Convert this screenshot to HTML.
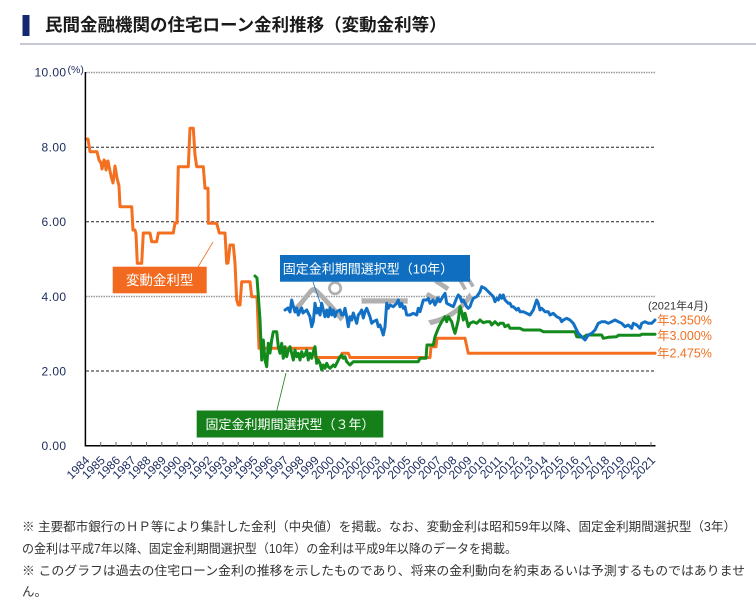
<!DOCTYPE html>
<html><head><meta charset="utf-8"><style>
html,body{margin:0;padding:0;background:#fff;}
svg{display:block;}
</style></head><body>
<svg width="756" height="609" viewBox="0 0 756 609" xmlns="http://www.w3.org/2000/svg" font-family="'Liberation Sans','Noto Sans CJK JP',sans-serif">
<rect width="756" height="609" fill="#fff"/>
<!-- title -->
<rect x="22.5" y="15" width="7" height="21" fill="#13296f"/>
<text x="45" y="31" font-size="17.5" font-weight="bold" fill="#1a1a1a">民間金融機関の住宅ローン金利推移（変動金利等）</text>
<rect x="20" y="43" width="736" height="2" fill="#c6c9d4"/>

<!-- gridlines -->
<g fill="none">
<line x1="86" y1="72.5" x2="655" y2="72.5" stroke="#999" stroke-width="1.5" stroke-dasharray="1.5,1"/>
<line x1="86" y1="147.2" x2="655" y2="147.2" stroke="#222" stroke-width="1" stroke-dasharray="3,2"/>
<line x1="86" y1="221.8" x2="655" y2="221.8" stroke="#222" stroke-width="1" stroke-dasharray="3,2"/>
<line x1="86" y1="296.5" x2="655" y2="296.5" stroke="#999" stroke-width="1.5" stroke-dasharray="1.5,1"/>
<line x1="86" y1="371" x2="655" y2="371" stroke="#222" stroke-width="1" stroke-dasharray="3,2"/>
</g>

<!-- y labels -->
<g font-size="12" fill="#1c2b5e" text-anchor="end" letter-spacing="0.4">
<text x="66.5" y="76.5">10.00</text>
<text x="66.5" y="151.5">8.00</text>
<text x="66.5" y="226">6.00</text>
<text x="66.5" y="301">4.00</text>
<text x="66.5" y="375.5">2.00</text>
<text x="66.5" y="450">0.00</text>
</g>
<text x="67.5" y="73" font-size="10.5" fill="#1c2b5e">(%)</text>

<!-- watermark -->
<text x="290" y="323" font-size="58" fill="#b0b0b0" textLength="188" lengthAdjust="spacing" font-family="'Noto Sans CJK JP',sans-serif">ページ</text>

<!-- label boxes -->
<rect x="112.7" y="266.7" width="94" height="26.6" fill="#f26a1f"/>
<text x="159.7" y="285" font-size="13.5" fill="#fff" text-anchor="middle">変動金利型</text>
<line x1="198" y1="267" x2="213" y2="242" stroke="#f26a1f" stroke-width="0.8"/>

<rect x="280" y="255" width="190" height="26.7" fill="#0f6ebf"/>
<text x="368" y="273.5" font-size="13" fill="#fff" text-anchor="middle">固定金利期間選択型（10年）</text>
<line x1="313" y1="282" x2="322" y2="308" stroke="#0f6ebf" stroke-width="0.8"/>

<rect x="196.7" y="410.5" width="186.6" height="27" fill="#15801a"/>
<text x="290" y="429" font-size="13" fill="#fff" text-anchor="middle">固定金利期間選択型（３年）</text>
<line x1="276.7" y1="411" x2="286" y2="373" stroke="#15801a" stroke-width="0.8"/>

<!-- series -->
<g fill="none" stroke-width="3" stroke-linejoin="round" stroke-linecap="round">
<path stroke="#f47020" d="M86,139 L88,139 L90,151.7 L97,151.7 L99,160 L101,163 L102,169 L104,160 L105,161 L106,170 L108,161 L109,166 L111,176 L113,183 L114,175 L115,166 L117,178 L119,186 L120,206.7 L131.7,206.7 L133,230 L135,230 L136,234 L137.3,263.3 L141.7,263.3 L143.3,233 L150,233 L151.7,241.7 L156.7,241.7 L158.3,233 L173.3,233 L175,223 L177,223 L178.3,166.7 L188.3,166.7 L190,128.3 L193.3,128.3 L195,155 L196.7,166.7 L203.3,166.7 L205,188.3 L208,188.3 L208.3,223.3 L216.7,223.3 L219.3,233 L225,233 L226.7,263.3 L228,263 L230,245 L233.3,245 L235,263 L236.7,300 L238.3,305 L240,305 L241.7,281.7 L250,281.7 L251.7,296.7 L255,296.7 L257,296.7 L259,348.3 L314,348.3 L315.5,357.5 L341,357.5 L342,353.3 L348.3,353.3 L350,357.5 L430,357.5 L431,346.7 L436,346.7 L437,338.3 L465,338.3 L468.3,353.3 L655,353.3"/>
<path stroke="#138a1c" d="M255,276 L257,278 L260,320 L261.7,360 L263.3,340 L265,360 L266.7,366.7 L268.3,343.3 L270,353 L271.7,340 L273.3,331.7 L276.7,331.7 L278.3,346.7 L280,353.3 L281.7,343.3 L283.3,358.3 L285,346.7 L286.7,356.7 L288.3,350 L290,346.7 L291.7,353.3 L293.3,360 L295,350 L296.7,356.7 L298.3,353.3 L300,360 L301.7,351.7 L303.3,356.7 L305,355 L306.7,350 L308.3,360 L310,353.3 L311.7,358.3 L313.3,351.7 L315,346.7 L316.7,363.3 L318.3,360 L320,363.3 L321.7,370 L323.3,365 L325,368.3 L326.7,363.3 L328.3,366.7 L330,368.3 L333.3,365 L335,366.7 L336.7,363.3 L338.3,360 L340,356.7 L341.7,355 L343.3,358.3 L345,356.7 L346.7,361.7 L350,365 L353.3,361.7 L418.3,361.7 L420,358.3 L426,358.3 L427,345 L433.3,345 L435,336.7 L438.3,328.3 L441.7,321.7 L445,316.7 L446.7,321.7 L448.3,316.7 L451.7,321.7 L453.3,328.3 L455,333.3 L456.7,326.7 L458.3,320 L460,306.7 L461.7,311.7 L463.3,320 L465,313.3 L466.7,320 L468.3,326.7 L470,323.3 L473.3,321.7 L476.7,323.3 L480,320 L483.3,322.7 L486.7,321.7 L490,321.7 L491.7,325 L495,321.7 L498.3,325 L500,323.3 L503.3,323.3 L505,326.7 L508.3,325 L510,328.3 L520,328.3 L523.3,330 L540,330 L543.3,331.7 L575,331.7 L576.7,336.7 L583.3,337.3 L586.7,335 L601.7,335 L603.3,338.3 L608.3,337.3 L616.7,336.7 L618.3,335.3 L640,335.3 L641.7,334.3 L655,334.3"/>
<path stroke="#1271c4" d="M285,310 L288,308 L290,312 L291.7,300 L293,305 L295,312 L296.7,308 L298.3,315 L300,311 L301.7,308 L303,313 L306.7,310 L310,316.7 L311.7,326.7 L313.3,321.7 L315,303.3 L316.7,313 L318.3,308.3 L320,315 L321.7,303.3 L323.3,310 L325,316.7 L326.7,310 L328.3,316.7 L330,308 L331.7,315 L333.3,310 L335,316.7 L336.7,311.7 L340,310 L341.7,315 L343.3,315 L345,308.3 L346.7,316.7 L348.3,326.7 L350,316.7 L351.7,320 L353.3,313 L356.7,323.3 L358.3,315 L360,313 L361.7,310 L363.3,318 L365,311.7 L366.7,308.3 L370,316.7 L371.7,323.3 L373.3,321.7 L376.7,320 L378.3,326.7 L380,325 L381.7,330 L383.3,335 L385,326.7 L386.7,303.3 L388.3,308.3 L390,305 L393.3,306.7 L396.7,303.3 L398.3,300 L400,306.7 L401.7,303.3 L403.3,308.3 L405,306.7 L406.7,315 L410,315 L413.3,313.3 L416.7,315 L418.3,308.3 L420,311.7 L423.3,300 L426.7,300 L428.3,298.3 L430,303.3 L433,300 L435,305 L438,298 L440,301.7 L442,298 L445,293.3 L446.7,303.3 L450,305 L453.3,306.7 L456.7,298 L458.3,295 L460,296.7 L461.7,301.7 L463.3,300 L466.7,306.7 L468.3,308.3 L470,306.7 L471.7,301.7 L473.3,298.3 L476.7,296.7 L480,291.7 L481.7,286.7 L485,288.3 L486.7,290 L490,293.3 L491.7,295 L493.3,296.7 L495,301.7 L496.7,298.3 L498.3,300 L500,295 L501.7,298.3 L503.3,295 L505,300 L506.7,301.7 L508.3,303.3 L510,303.3 L511.7,306.7 L513.3,306.7 L516.7,310 L518.3,308.3 L520,311.7 L523.3,311.7 L526.7,313.3 L530,315 L533.3,310 L535,305 L536.7,300 L538.3,303.3 L540,310 L541.7,308.3 L545,311.7 L548.3,311.7 L550,315 L553.3,313.3 L556.7,316.7 L560,318.3 L561.7,321.7 L563.3,320 L566.7,318.3 L570,320 L573.3,323.3 L575,326.7 L578.3,333.3 L581.7,336.7 L585,340 L588.3,335 L591.7,333.3 L595,330 L598.3,323.3 L601.7,321.7 L605,321.7 L608.3,323.3 L611.7,321.7 L615,320 L618.3,321.7 L621.7,323.3 L625,326.7 L628.3,325 L631.7,328.3 L633.3,323.3 L636.7,325 L640,328.3 L641.7,323.3 L645,321.7 L648.3,323.3 L651.7,323.3 L655,320"/>
</g>

<!-- axes -->
<line x1="85.4" y1="72" x2="85.4" y2="446.5" stroke="#000" stroke-width="1.5"/>
<line x1="84.7" y1="445.8" x2="655.5" y2="445.8" stroke="#000" stroke-width="1.5"/>
<g stroke="#666" stroke-width="1">
<line x1="100.69" y1="442" x2="100.69" y2="446"/><line x1="115.97" y1="442" x2="115.97" y2="446"/><line x1="131.26" y1="442" x2="131.26" y2="446"/><line x1="146.54" y1="442" x2="146.54" y2="446"/><line x1="161.83" y1="442" x2="161.83" y2="446"/><line x1="177.12" y1="442" x2="177.12" y2="446"/><line x1="192.4" y1="442" x2="192.4" y2="446"/><line x1="207.69" y1="442" x2="207.69" y2="446"/><line x1="222.97" y1="442" x2="222.97" y2="446"/><line x1="238.26" y1="442" x2="238.26" y2="446"/><line x1="253.55" y1="442" x2="253.55" y2="446"/><line x1="268.83" y1="442" x2="268.83" y2="446"/><line x1="284.12" y1="442" x2="284.12" y2="446"/><line x1="299.4" y1="442" x2="299.4" y2="446"/><line x1="314.69" y1="442" x2="314.69" y2="446"/><line x1="329.98" y1="442" x2="329.98" y2="446"/><line x1="345.26" y1="442" x2="345.26" y2="446"/><line x1="360.55" y1="442" x2="360.55" y2="446"/><line x1="375.83" y1="442" x2="375.83" y2="446"/><line x1="391.12" y1="442" x2="391.12" y2="446"/><line x1="406.41" y1="442" x2="406.41" y2="446"/><line x1="421.69" y1="442" x2="421.69" y2="446"/><line x1="436.98" y1="442" x2="436.98" y2="446"/><line x1="452.26" y1="442" x2="452.26" y2="446"/><line x1="467.55" y1="442" x2="467.55" y2="446"/><line x1="482.84" y1="442" x2="482.84" y2="446"/><line x1="498.12" y1="442" x2="498.12" y2="446"/><line x1="513.41" y1="442" x2="513.41" y2="446"/><line x1="528.69" y1="442" x2="528.69" y2="446"/><line x1="543.98" y1="442" x2="543.98" y2="446"/><line x1="559.27" y1="442" x2="559.27" y2="446"/><line x1="574.55" y1="442" x2="574.55" y2="446"/><line x1="589.84" y1="442" x2="589.84" y2="446"/><line x1="605.12" y1="442" x2="605.12" y2="446"/><line x1="620.41" y1="442" x2="620.41" y2="446"/><line x1="635.7" y1="442" x2="635.7" y2="446"/><line x1="650.98" y1="442" x2="650.98" y2="446"/>
</g>

<!-- x labels -->
<g font-size="12" fill="#1c2b5e" text-anchor="end">
<text transform="translate(90.4,461) rotate(-45)">1984</text>
<text transform="translate(105.7,461) rotate(-45)">1985</text>
<text transform="translate(121,461) rotate(-45)">1986</text>
<text transform="translate(136.3,461) rotate(-45)">1987</text>
<text transform="translate(151.5,461) rotate(-45)">1988</text>
<text transform="translate(166.8,461) rotate(-45)">1989</text>
<text transform="translate(182.1,461) rotate(-45)">1990</text>
<text transform="translate(197.4,461) rotate(-45)">1991</text>
<text transform="translate(212.7,461) rotate(-45)">1992</text>
<text transform="translate(228,461) rotate(-45)">1993</text>
<text transform="translate(243.3,461) rotate(-45)">1994</text>
<text transform="translate(258.5,461) rotate(-45)">1995</text>
<text transform="translate(273.8,461) rotate(-45)">1996</text>
<text transform="translate(289.1,461) rotate(-45)">1997</text>
<text transform="translate(304.4,461) rotate(-45)">1998</text>
<text transform="translate(319.7,461) rotate(-45)">1999</text>
<text transform="translate(335,461) rotate(-45)">2000</text>
<text transform="translate(350.3,461) rotate(-45)">2001</text>
<text transform="translate(365.5,461) rotate(-45)">2002</text>
<text transform="translate(380.8,461) rotate(-45)">2003</text>
<text transform="translate(396.1,461) rotate(-45)">2004</text>
<text transform="translate(411.4,461) rotate(-45)">2005</text>
<text transform="translate(426.7,461) rotate(-45)">2006</text>
<text transform="translate(442,461) rotate(-45)">2007</text>
<text transform="translate(457.3,461) rotate(-45)">2008</text>
<text transform="translate(472.5,461) rotate(-45)">2009</text>
<text transform="translate(487.8,461) rotate(-45)">2010</text>
<text transform="translate(503.1,461) rotate(-45)">2011</text>
<text transform="translate(518.4,461) rotate(-45)">2012</text>
<text transform="translate(533.7,461) rotate(-45)">2013</text>
<text transform="translate(549,461) rotate(-45)">2014</text>
<text transform="translate(564.3,461) rotate(-45)">2015</text>
<text transform="translate(579.6,461) rotate(-45)">2016</text>
<text transform="translate(594.8,461) rotate(-45)">2017</text>
<text transform="translate(610.1,461) rotate(-45)">2018</text>
<text transform="translate(625.4,461) rotate(-45)">2019</text>
<text transform="translate(640.7,461) rotate(-45)">2020</text>
<text transform="translate(656,461) rotate(-45)">2021</text>
</g>

<!-- right annotations -->
<text x="648" y="309.5" font-size="11" fill="#333">(2021年4月)</text>
<g font-size="12.5" fill="#f07020">
<text x="657" y="324.5">年3.350%</text>
<text x="657" y="340">年3.000%</text>
<text x="657" y="357.5">年2.475%</text>
</g>

<!-- notes -->
<g font-size="12.5" fill="#333">
<text x="22" y="531" textLength="714" lengthAdjust="spacingAndGlyphs">※ 主要都市銀行のＨＰ等により集計した金利（中央値）を掲載。なお、変動金利は昭和59年以降、固定金利期間選択型（3年）</text>
<text x="22" y="553" textLength="495" lengthAdjust="spacingAndGlyphs">の金利は平成7年以降、固定金利期間選択型（10年）の金利は平成9年以降のデータを掲載。</text>
<text x="22" y="575" textLength="723" lengthAdjust="spacingAndGlyphs">※ このグラフは過去の住宅ローン金利の推移を示したものであり、将来の金利動向を約束あるいは予測するものではありませ</text>
<text x="22" y="596">ん。</text>
</g>
</svg>
</body></html>
